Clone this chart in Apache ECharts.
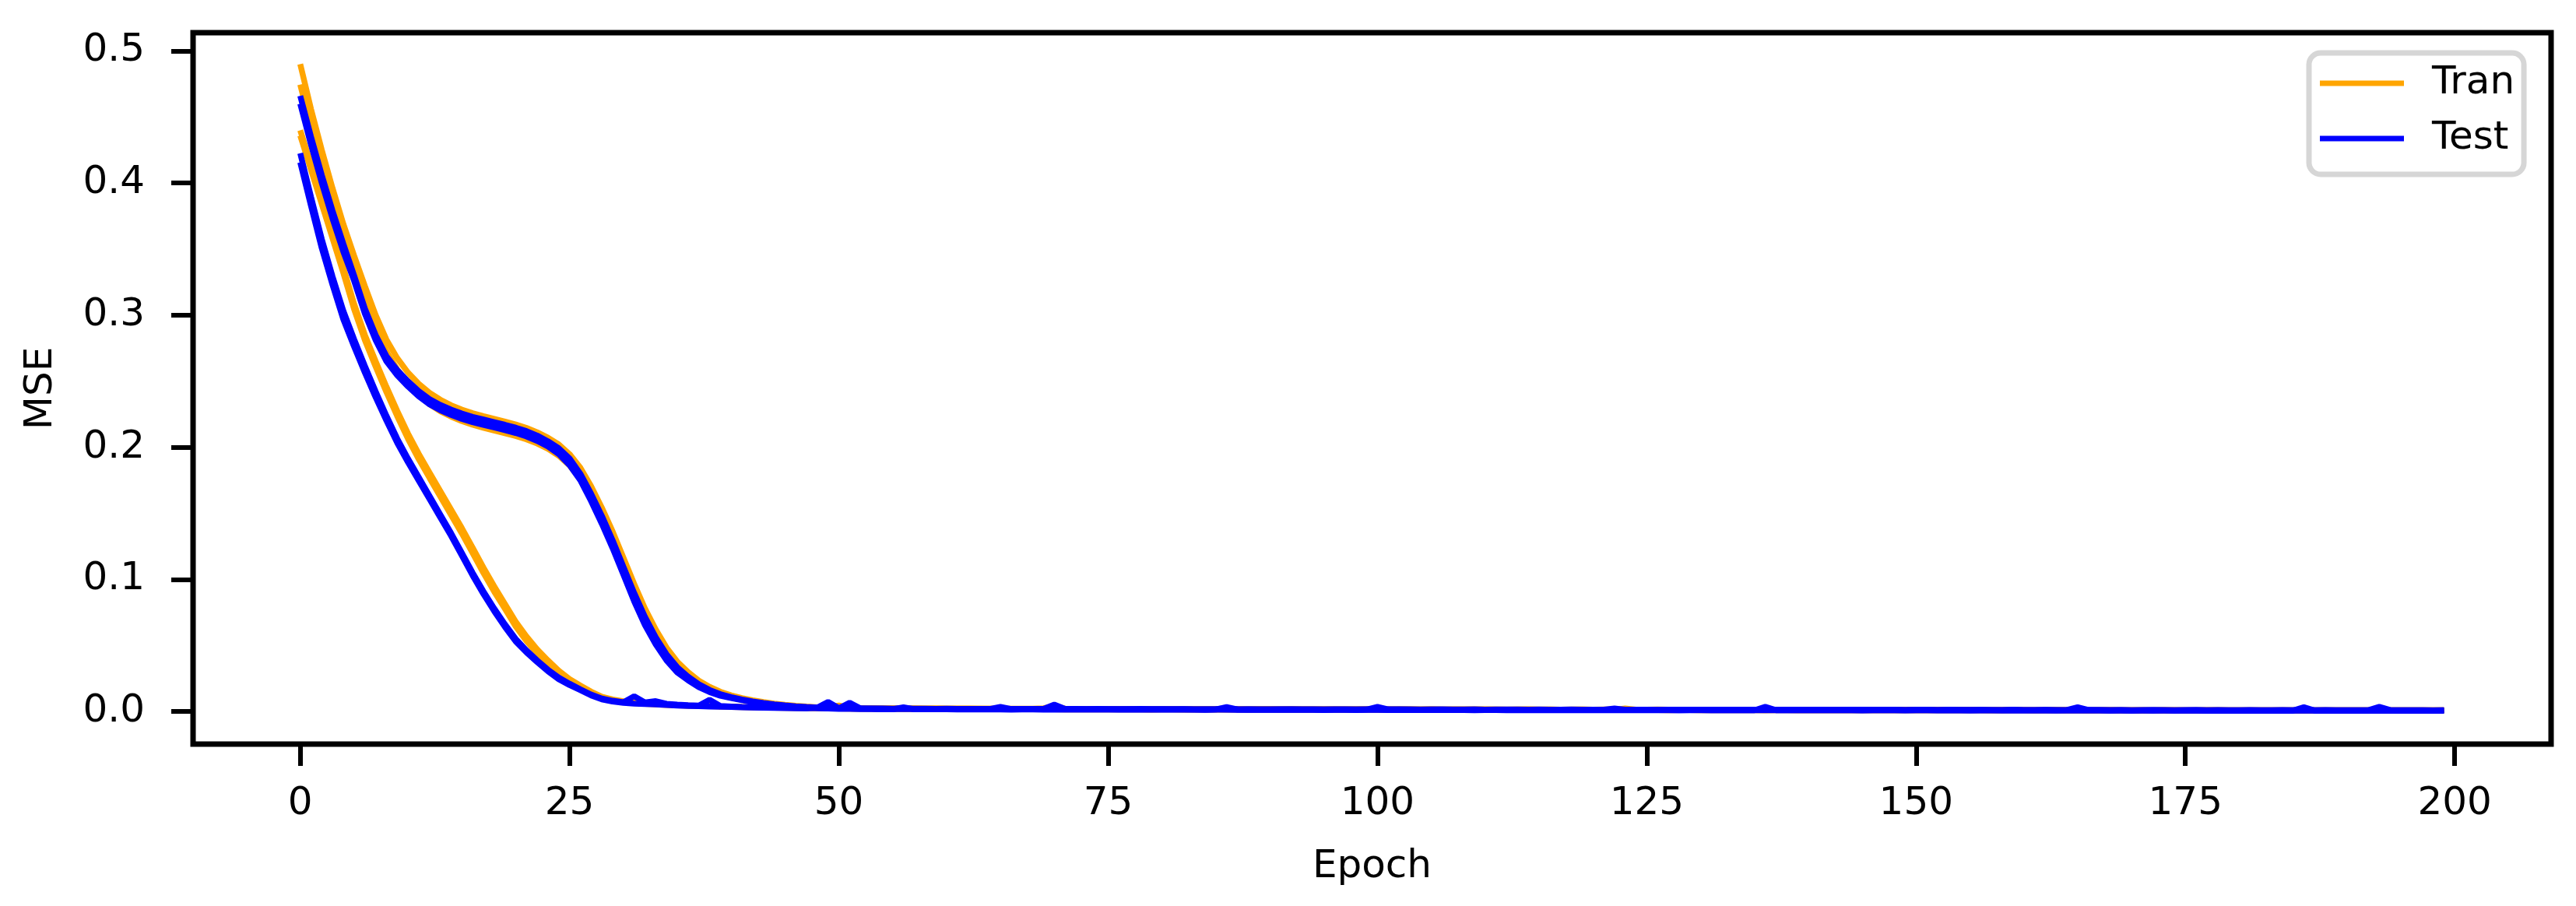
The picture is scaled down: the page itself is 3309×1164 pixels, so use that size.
<!DOCTYPE html>
<html>
<head>
<meta charset="utf-8">
<script src="https://cdn.jsdelivr.net/npm/echarts@6/dist/echarts.min.js"></script>
<style>
  html, body { margin: 0; padding: 0; background: #fff; }
  #chart { width: 3309px; height: 1164px; }
</style>
</head>
<body>
<div id="chart"></div>
<script>
// tick labels
const xTicks = [0, 25, 50, 75, 100, 125, 150, 175, 200];
const yTicks = [0, 0.1, 0.2, 0.3, 0.4, 0.5];

// MSE per epoch (0..199), four runs: A and B stall on a plateau, C and D drop straight away
const trainA = [
  0.490, 0.456, 0.425, 0.396, 0.369, 0.345, 0.322, 0.300, 0.2815, 0.2675,
  0.2565, 0.248, 0.2412, 0.236, 0.2318, 0.2285, 0.2258, 0.2236, 0.2215, 0.2194,
  0.2172, 0.2146, 0.2113, 0.2072, 0.2021, 0.1948, 0.1845, 0.1705, 0.1542, 0.1362,
  0.1165, 0.0965, 0.0780, 0.0621, 0.0484, 0.0377, 0.0298, 0.0234, 0.0186, 0.0149,
  0.0122, 0.0101, 0.0085, 0.0071, 0.0060, 0.0051, 0.0043, 0.0037, 0.0032, 0.0029,
  0.0040, 0.0026, 0.0025, 0.0024, 0.0024, 0.0023, 0.0023, 0.0022, 0.0022, 0.0022, 0.0021, 0.0021, 0.0021, 0.0020, 0.0021, 0.0020, 0.0020, 0.0020, 0.0019, 0.0020, 0.0019, 0.0019, 0.0019, 0.0018, 0.0019,
  0.0018, 0.0018, 0.0019, 0.0018, 0.0018, 0.0017, 0.0018, 0.0018, 0.0017, 0.0017, 0.0018, 0.0017, 0.0017, 0.0017, 0.0016, 0.0017, 0.0017, 0.0016, 0.0017, 0.0016, 0.0016, 0.0016, 0.0017, 0.0016, 0.0016,
  0.0016, 0.0015, 0.0016, 0.0016, 0.0015, 0.0016, 0.0015, 0.0015, 0.0015, 0.0016, 0.0015, 0.0015, 0.0014, 0.0015, 0.0015, 0.0014, 0.0015, 0.0014, 0.0014, 0.0015, 0.0014, 0.0014, 0.0014, 0.0022, 0.0014,
  0.0014, 0.0013, 0.0014, 0.0014, 0.0013, 0.0014, 0.0013, 0.0013, 0.0014, 0.0013, 0.0013, 0.0013, 0.0013, 0.0012, 0.0013, 0.0013, 0.0012, 0.0013, 0.0012, 0.0012, 0.0013, 0.0012, 0.0012, 0.0012, 0.0012,
  0.0012, 0.0011, 0.0012, 0.0012, 0.0011, 0.0012, 0.0011, 0.0011, 0.0012, 0.0011, 0.0011, 0.0011, 0.0011, 0.0012, 0.0011, 0.0011, 0.0010, 0.0011, 0.0011, 0.0011, 0.0010, 0.0011, 0.0010, 0.0010, 0.0011,
  0.0010, 0.0010, 0.0010, 0.0011, 0.0010, 0.0010, 0.0010, 0.0009, 0.0010, 0.0010, 0.0010, 0.0010, 0.0009, 0.0010, 0.0009, 0.0010, 0.0009, 0.0009, 0.0010, 0.0009, 0.0009, 0.0009, 0.0009, 0.0010, 0.0009
];
const trainB = [
  0.4745, 0.442, 0.411, 0.383, 0.357, 0.334, 0.311, 0.2905, 0.2725, 0.259,
  0.2485, 0.2395, 0.2325, 0.2273, 0.2232, 0.2198, 0.2170, 0.2147, 0.2126, 0.2106,
  0.2085, 0.2060, 0.2028, 0.1988, 0.1936, 0.1862, 0.1758, 0.1612, 0.1448, 0.1262,
  0.1062, 0.0862, 0.0680, 0.0530, 0.0406, 0.0312, 0.0248, 0.0194, 0.0155, 0.0125,
  0.0105, 0.0088, 0.0073, 0.0062, 0.0052, 0.0044, 0.0037, 0.0032, 0.0028, 0.0025,
  0.0022, 0.0021, 0.0020, 0.0020, 0.0019, 0.0019, 0.0018, 0.0019, 0.0018, 0.0018, 0.0017, 0.0018, 0.0017, 0.0017, 0.0017, 0.0016, 0.0017, 0.0016, 0.0016, 0.0016, 0.0016, 0.0015, 0.0016, 0.0015, 0.0015,
  0.0015, 0.0016, 0.0015, 0.0015, 0.0014, 0.0015, 0.0015, 0.0014, 0.0015, 0.0014, 0.0014, 0.0014, 0.0015, 0.0014, 0.0014, 0.0013, 0.0014, 0.0014, 0.0013, 0.0014, 0.0013, 0.0013, 0.0013, 0.0014, 0.0013,
  0.0013, 0.0013, 0.0012, 0.0013, 0.0013, 0.0012, 0.0013, 0.0012, 0.0012, 0.0012, 0.0013, 0.0012, 0.0012, 0.0011, 0.0012, 0.0012, 0.0012, 0.0011, 0.0012, 0.0011, 0.0011, 0.0012, 0.0011, 0.0011, 0.0011,
  0.0011, 0.0011, 0.0010, 0.0011, 0.0011, 0.0010, 0.0011, 0.0010, 0.0010, 0.0011, 0.0010, 0.0010, 0.0010, 0.0011, 0.0010, 0.0010, 0.0010, 0.0009, 0.0010, 0.0010, 0.0009, 0.0010, 0.0009, 0.0009, 0.0010,
  0.0009, 0.0009, 0.0009, 0.0010, 0.0009, 0.0009, 0.0009, 0.0008, 0.0009, 0.0009, 0.0009, 0.0008, 0.0009, 0.0009, 0.0008, 0.0009, 0.0008, 0.0008, 0.0009, 0.0008, 0.0008, 0.0008, 0.0008, 0.0009, 0.0008,
  0.0008, 0.0008, 0.0007, 0.0008, 0.0008, 0.0008, 0.0007, 0.0008, 0.0008, 0.0007, 0.0008, 0.0007, 0.0007, 0.0008, 0.0007, 0.0007, 0.0007, 0.0008, 0.0007, 0.0007, 0.0007, 0.0007, 0.0006, 0.0007, 0.0007
];
const trainC = [
  0.440, 0.414, 0.388, 0.362, 0.336, 0.3085, 0.285, 0.265, 0.2458, 0.2276,
  0.2104, 0.1950, 0.1808, 0.1668, 0.1528, 0.1388, 0.1240, 0.1090, 0.0948, 0.0814,
  0.0680, 0.0568, 0.0470, 0.0386, 0.0309, 0.0245, 0.0196, 0.0150, 0.0111, 0.0091,
  0.0077, 0.0068, 0.0062, 0.0057, 0.0052, 0.0048, 0.0045, 0.0042, 0.0040, 0.0038,
  0.0036, 0.0034, 0.0033, 0.0031, 0.0030, 0.0029, 0.0028, 0.0027, 0.0026, 0.0032,
  0.0045, 0.0026, 0.0025, 0.0025, 0.0024, 0.0024, 0.0023, 0.0024, 0.0023, 0.0023, 0.0022, 0.0023, 0.0022, 0.0022, 0.0021, 0.0022, 0.0021, 0.0021, 0.0021, 0.0024, 0.0040, 0.0021, 0.0020, 0.0020, 0.0020,
  0.0019, 0.0020, 0.0019, 0.0019, 0.0019, 0.0018, 0.0019, 0.0019, 0.0018, 0.0018, 0.0019, 0.0018, 0.0018, 0.0017, 0.0018, 0.0018, 0.0017, 0.0018, 0.0017, 0.0017, 0.0017, 0.0016, 0.0017, 0.0017, 0.0016,
  0.0017, 0.0016, 0.0016, 0.0016, 0.0017, 0.0016, 0.0015, 0.0016, 0.0016, 0.0015, 0.0016, 0.0015, 0.0015, 0.0015, 0.0016, 0.0015, 0.0015, 0.0014, 0.0015, 0.0015, 0.0014, 0.0015, 0.0015, 0.0014, 0.0014,
  0.0014, 0.0015, 0.0014, 0.0014, 0.0014, 0.0013, 0.0014, 0.0014, 0.0013, 0.0014, 0.0013, 0.0013, 0.0013, 0.0014, 0.0013, 0.0013, 0.0012, 0.0013, 0.0013, 0.0012, 0.0013, 0.0012, 0.0012, 0.0012, 0.0013,
  0.0012, 0.0012, 0.0011, 0.0012, 0.0012, 0.0011, 0.0012, 0.0011, 0.0011, 0.0012, 0.0011, 0.0011, 0.0011, 0.0011, 0.0012, 0.0011, 0.0010, 0.0011, 0.0011, 0.0010, 0.0011, 0.0010, 0.0010, 0.0011, 0.0010,
  0.0010, 0.0010, 0.0011, 0.0010, 0.0010, 0.0010, 0.0009, 0.0010, 0.0010, 0.0009, 0.0010, 0.0010, 0.0009, 0.0010, 0.0009, 0.0009, 0.0010, 0.0009, 0.0009, 0.0009, 0.0009, 0.0010, 0.0009, 0.0009, 0.0009
];
const trainD = [
  0.436, 0.410, 0.384, 0.358, 0.332, 0.3045, 0.281, 0.261, 0.2418, 0.2236,
  0.2064, 0.1910, 0.1768, 0.1628, 0.1488, 0.1348, 0.1200, 0.1050, 0.0908, 0.0778,
  0.0644, 0.0534, 0.0440, 0.0360, 0.0287, 0.0227, 0.0182, 0.0140, 0.0103, 0.0085,
  0.0071, 0.0064, 0.0058, 0.0054, 0.0049, 0.0046, 0.0043, 0.0041, 0.0060, 0.0037,
  0.0035, 0.0033, 0.0031, 0.0030, 0.0028, 0.0027, 0.0026, 0.0025, 0.0024, 0.0024,
  0.0023, 0.0023, 0.0022, 0.0022, 0.0021, 0.0022, 0.0021, 0.0021, 0.0020, 0.0021, 0.0020, 0.0020, 0.0020, 0.0019, 0.0020, 0.0019, 0.0019, 0.0019, 0.0018, 0.0019, 0.0018, 0.0018, 0.0018, 0.0018, 0.0017,
  0.0018, 0.0017, 0.0017, 0.0017, 0.0016, 0.0017, 0.0017, 0.0016, 0.0016, 0.0016, 0.0017, 0.0016, 0.0016, 0.0015, 0.0016, 0.0016, 0.0015, 0.0016, 0.0015, 0.0015, 0.0015, 0.0015, 0.0014, 0.0015, 0.0015,
  0.0014, 0.0015, 0.0014, 0.0014, 0.0014, 0.0014, 0.0013, 0.0014, 0.0014, 0.0013, 0.0014, 0.0013, 0.0013, 0.0013, 0.0013, 0.0012, 0.0013, 0.0013, 0.0012, 0.0013, 0.0012, 0.0012, 0.0012, 0.0012, 0.0011,
  0.0012, 0.0012, 0.0011, 0.0012, 0.0011, 0.0011, 0.0012, 0.0011, 0.0011, 0.0011, 0.0011, 0.0010, 0.0011, 0.0011, 0.0010, 0.0011, 0.0010, 0.0010, 0.0010, 0.0010, 0.0010, 0.0009, 0.0010, 0.0010, 0.0009,
  0.0010, 0.0009, 0.0009, 0.0009, 0.0010, 0.0009, 0.0009, 0.0009, 0.0008, 0.0009, 0.0009, 0.0008, 0.0009, 0.0008, 0.0008, 0.0009, 0.0008, 0.0008, 0.0008, 0.0008, 0.0008, 0.0007, 0.0008, 0.0008, 0.0008,
  0.0007, 0.0008, 0.0008, 0.0007, 0.0008, 0.0007, 0.0007, 0.0007, 0.0008, 0.0007, 0.0007, 0.0007, 0.0007, 0.0006, 0.0007, 0.0007, 0.0007, 0.0006, 0.0007, 0.0007, 0.0006, 0.0007, 0.0006, 0.0006, 0.0007
];

const testA = [
  0.466, 0.435, 0.406, 0.379, 0.354, 0.330, 0.305, 0.285, 0.269, 0.2585,
  0.250, 0.2425, 0.2365, 0.232, 0.2285, 0.2255, 0.223, 0.221, 0.219, 0.217,
  0.2148, 0.2122, 0.2088, 0.2045, 0.1992, 0.1915, 0.180, 0.1648, 0.148, 0.1295,
  0.1095, 0.0897, 0.0716, 0.0562, 0.0433, 0.0335, 0.0264, 0.0206, 0.0163, 0.0131,
  0.0109, 0.0091, 0.0076, 0.0064, 0.0054, 0.0046, 0.0039, 0.0034, 0.0030, 0.0027,
  0.0024, 0.0023, 0.0022, 0.0021, 0.0021, 0.0020, 0.0020, 0.0019, 0.0019, 0.0019, 0.0018, 0.0018, 0.0019, 0.0018, 0.0018, 0.0035, 0.0019, 0.0018, 0.0017, 0.0017, 0.0018, 0.0017, 0.0017, 0.0017, 0.0016,
  0.0016, 0.0017, 0.0016, 0.0016, 0.0016, 0.0017, 0.0016, 0.0016, 0.0015, 0.0016, 0.0016, 0.0015, 0.0015, 0.0016, 0.0015, 0.0015, 0.0015, 0.0016, 0.0015, 0.0015, 0.0014, 0.0015, 0.0015, 0.0014, 0.0015,
  0.0035, 0.0016, 0.0015, 0.0014, 0.0014, 0.0015, 0.0014, 0.0014, 0.0014, 0.0015, 0.0014, 0.0014, 0.0013, 0.0014, 0.0014, 0.0013, 0.0014, 0.0014, 0.0013, 0.0013, 0.0014, 0.0013, 0.0013, 0.0014, 0.0013,
  0.0013, 0.0013, 0.0014, 0.0013, 0.0013, 0.0012, 0.0013, 0.0013, 0.0013, 0.0012, 0.0013, 0.0013, 0.0012, 0.0013, 0.0012, 0.0012, 0.0013, 0.0012, 0.0012, 0.0012, 0.0013, 0.0012, 0.0012, 0.0012, 0.0011,
  0.0012, 0.0012, 0.0011, 0.0012, 0.0012, 0.0011, 0.0012, 0.0011, 0.0011, 0.0012, 0.0011, 0.0011, 0.0012, 0.0011, 0.0011, 0.0011, 0.0012, 0.0011, 0.0011, 0.0011, 0.0010, 0.0011, 0.0011, 0.0011, 0.0010,
  0.0011, 0.0011, 0.0010, 0.0011, 0.0010, 0.0010, 0.0011, 0.0010, 0.0010, 0.0011, 0.0010, 0.0010, 0.0010, 0.0011, 0.0010, 0.0010, 0.0010, 0.0010, 0.0035, 0.0011, 0.0010, 0.0010, 0.0010, 0.0009, 0.0010
];
const testB = [
  0.460, 0.429, 0.400, 0.373, 0.348, 0.326, 0.301, 0.281, 0.265, 0.2545,
  0.246, 0.2385, 0.2325, 0.228, 0.2245, 0.2215, 0.219, 0.217, 0.215, 0.213,
  0.2108, 0.2082, 0.2048, 0.2005, 0.1948, 0.1865, 0.175, 0.1592, 0.142, 0.1235,
  0.1035, 0.0833, 0.0654, 0.0508, 0.0387, 0.0295, 0.0236, 0.0184, 0.0147, 0.0119,
  0.0101, 0.0085, 0.0070, 0.0060, 0.0050, 0.0042, 0.0035, 0.0030, 0.0026, 0.0023,
  0.0020, 0.0019, 0.0018, 0.0018, 0.0017, 0.0017, 0.0032, 0.0017, 0.0016, 0.0016, 0.0016, 0.0015, 0.0016, 0.0015, 0.0015, 0.0015, 0.0014, 0.0015, 0.0015, 0.0014, 0.0014, 0.0015, 0.0014, 0.0014, 0.0014,
  0.0013, 0.0014, 0.0014, 0.0013, 0.0013, 0.0014, 0.0013, 0.0013, 0.0013, 0.0012, 0.0013, 0.0013, 0.0012, 0.0013, 0.0012, 0.0012, 0.0013, 0.0012, 0.0012, 0.0012, 0.0011, 0.0012, 0.0012, 0.0011, 0.0012,
  0.0012, 0.0011, 0.0012, 0.0011, 0.0011, 0.0011, 0.0012, 0.0011, 0.0011, 0.0010, 0.0011, 0.0011, 0.0010, 0.0011, 0.0010, 0.0010, 0.0011, 0.0010, 0.0010, 0.0010, 0.0011, 0.0010, 0.0010, 0.0009, 0.0010,
  0.0010, 0.0010, 0.0009, 0.0010, 0.0010, 0.0009, 0.0010, 0.0009, 0.0009, 0.0010, 0.0009, 0.0035, 0.0010, 0.0009, 0.0009, 0.0009, 0.0010, 0.0009, 0.0009, 0.0009, 0.0008, 0.0009, 0.0009, 0.0009, 0.0008,
  0.0009, 0.0009, 0.0008, 0.0009, 0.0008, 0.0008, 0.0009, 0.0008, 0.0008, 0.0009, 0.0008, 0.0008, 0.0008, 0.0009, 0.0008, 0.0008, 0.0008, 0.0008, 0.0007, 0.0008, 0.0008, 0.0008, 0.0007, 0.0008, 0.0008,
  0.0007, 0.0008, 0.0007, 0.0007, 0.0008, 0.0007, 0.0007, 0.0007, 0.0008, 0.0007, 0.0007, 0.0007, 0.0007, 0.0006, 0.0007, 0.0007, 0.0007, 0.0006, 0.0007, 0.0007, 0.0006, 0.0007, 0.0006, 0.0006, 0.0007
];
const testC = [
  0.4225, 0.3895, 0.3575, 0.3292, 0.3032, 0.2818, 0.2615, 0.2422, 0.2238, 0.2066,
  0.1914, 0.1773, 0.1632, 0.1491, 0.1350, 0.1200, 0.1050, 0.0910, 0.0780, 0.0660,
  0.0550, 0.0463, 0.0386, 0.0316, 0.0256, 0.0210, 0.0168, 0.0128, 0.0098, 0.0081,
  0.0070, 0.0115, 0.0068, 0.0078, 0.0058, 0.0052, 0.0047, 0.0044, 0.0088, 0.0042,
  0.0038, 0.0035, 0.0033, 0.0031, 0.0030, 0.0028, 0.0026, 0.0025, 0.0025, 0.0024,
  0.0023, 0.0066, 0.0023, 0.0022, 0.0022, 0.0021, 0.0022, 0.0021, 0.0021, 0.0020, 0.0021, 0.0020, 0.0020, 0.0020, 0.0019, 0.0020, 0.0019, 0.0019, 0.0019, 0.0020, 0.0052, 0.0020, 0.0019, 0.0018, 0.0019,
  0.0018, 0.0018, 0.0018, 0.0019, 0.0018, 0.0018, 0.0017, 0.0018, 0.0017, 0.0017, 0.0017, 0.0018, 0.0017, 0.0017, 0.0016, 0.0017, 0.0017, 0.0016, 0.0017, 0.0016, 0.0016, 0.0016, 0.0017, 0.0016, 0.0016,
  0.0016, 0.0015, 0.0016, 0.0016, 0.0015, 0.0015, 0.0016, 0.0015, 0.0015, 0.0015, 0.0014, 0.0015, 0.0015, 0.0015, 0.0014, 0.0015, 0.0014, 0.0014, 0.0015, 0.0014, 0.0014, 0.0014, 0.0022, 0.0014, 0.0014,
  0.0013, 0.0014, 0.0014, 0.0013, 0.0014, 0.0013, 0.0013, 0.0013, 0.0014, 0.0013, 0.0013, 0.0013, 0.0012, 0.0013, 0.0013, 0.0012, 0.0013, 0.0012, 0.0012, 0.0013, 0.0012, 0.0012, 0.0012, 0.0012, 0.0011,
  0.0012, 0.0012, 0.0011, 0.0012, 0.0011, 0.0012, 0.0011, 0.0011, 0.0011, 0.0012, 0.0011, 0.0011, 0.0011, 0.0010, 0.0011, 0.0032, 0.0011, 0.0011, 0.0010, 0.0011, 0.0010, 0.0010, 0.0011, 0.0010, 0.0010,
  0.0010, 0.0011, 0.0010, 0.0010, 0.0010, 0.0009, 0.0010, 0.0010, 0.0010, 0.0009, 0.0010, 0.0009, 0.0010, 0.0009, 0.0009, 0.0010, 0.0009, 0.0009, 0.0009, 0.0009, 0.0010, 0.0009, 0.0009, 0.0008, 0.0009
];
const testD = [
  0.4156, 0.3826, 0.3506, 0.3228, 0.2968, 0.2762, 0.2565, 0.2378, 0.2202, 0.2034,
  0.1886, 0.1747, 0.1608, 0.1469, 0.1330, 0.1180, 0.1030, 0.0890, 0.0760, 0.0640,
  0.0530, 0.0447, 0.0374, 0.0304, 0.0244, 0.0200, 0.0162, 0.0122, 0.0092, 0.0075,
  0.0065, 0.0060, 0.0057, 0.0053, 0.0049, 0.0045, 0.0042, 0.0040, 0.0038, 0.0036,
  0.0034, 0.0032, 0.0030, 0.0029, 0.0027, 0.0026, 0.0025, 0.0024, 0.0030, 0.0072,
  0.0026, 0.0022, 0.0021, 0.0021, 0.0020, 0.0020, 0.0020, 0.0019, 0.0019, 0.0019, 0.0018, 0.0019, 0.0018, 0.0018, 0.0018, 0.0017, 0.0018, 0.0017, 0.0017, 0.0017, 0.0016, 0.0017, 0.0016, 0.0016, 0.0016,
  0.0016, 0.0015, 0.0016, 0.0015, 0.0015, 0.0015, 0.0016, 0.0015, 0.0015, 0.0014, 0.0015, 0.0033, 0.0015, 0.0014, 0.0014, 0.0014, 0.0015, 0.0014, 0.0014, 0.0013, 0.0014, 0.0014, 0.0013, 0.0014, 0.0013,
  0.0013, 0.0014, 0.0013, 0.0013, 0.0013, 0.0012, 0.0013, 0.0013, 0.0012, 0.0013, 0.0012, 0.0012, 0.0012, 0.0013, 0.0012, 0.0012, 0.0011, 0.0012, 0.0012, 0.0011, 0.0012, 0.0011, 0.0011, 0.0012, 0.0011,
  0.0011, 0.0011, 0.0011, 0.0010, 0.0011, 0.0011, 0.0010, 0.0011, 0.0010, 0.0010, 0.0011, 0.0010, 0.0010, 0.0010, 0.0010, 0.0009, 0.0010, 0.0010, 0.0009, 0.0010, 0.0009, 0.0009, 0.0010, 0.0009, 0.0009,
  0.0009, 0.0009, 0.0010, 0.0009, 0.0009, 0.0008, 0.0009, 0.0009, 0.0008, 0.0009, 0.0008, 0.0008, 0.0009, 0.0008, 0.0008, 0.0008, 0.0008, 0.0009, 0.0008, 0.0008, 0.0007, 0.0008, 0.0008, 0.0008, 0.0007,
  0.0008, 0.0008, 0.0007, 0.0008, 0.0007, 0.0007, 0.0008, 0.0007, 0.0007, 0.0007, 0.0007, 0.0032, 0.0007, 0.0007, 0.0006, 0.0007, 0.0007, 0.0007, 0.0006, 0.0007, 0.0006, 0.0007, 0.0006, 0.0006, 0.0006
];

const trainRuns = [trainA, trainB, trainC, trainD];
const testRuns = [testA, testB, testC, testD];

const ORANGE = '#FFA500';
const BLUE = '#0000FF';
const FONT = 'DejaVu Sans';

function lineSeries(name, color, values) {
  return {
    name,
    type: 'line',
    data: values.map((v, i) => [i, v]),
    showSymbol: false,
    symbol: 'none',
    lineStyle: { color, width: 7.5 },
    itemStyle: { color },
    emphasis: { disabled: true },
    animation: false,
  };
}

const chart = echarts.init(document.getElementById('chart'), null, { renderer: 'canvas' });

chart.setOption({
  backgroundColor: '#fff',
  animation: false,
  textStyle: { fontFamily: FONT },
  grid: {
    left: 248,
    right: 32,
    top: 42,
    bottom: 208,
    show: true,
    borderColor: '#000',
    borderWidth: 7,
    containLabel: false,
    outerBoundsMode: 'none',
  },
  legend: {
    data: ['Tran', 'Test'],
    orient: 'vertical',
    left: 2966,
    top: 68,
    padding: [14, 12, 21, 14],
    itemGap: 21,
    itemWidth: 108,
    itemHeight: 7,
    icon: 'rect',
    backgroundColor: '#fff',
    borderColor: '#d6d6d6',
    borderWidth: 7,
    borderRadius: 15,
    textStyle: {
      fontFamily: FONT,
      fontSize: 50,
      lineHeight: 50,
      color: '#000',
      padding: [0, 0, 0, 31],
    },
  },
  xAxis: {
    type: 'value',
    min: -9.95,
    max: 208.95,
    name: 'Epoch',
    nameLocation: 'middle',
    nameGap: 133,
    nameTextStyle: { fontFamily: FONT, fontSize: 50, color: '#000' },
    axisLine: { show: false, onZero: false },
    splitLine: { show: false },
    axisTick: {
      show: true,
      customValues: xTicks,
      length: 28,
      lineStyle: { color: '#000', width: 6 },
    },
    axisLabel: {
      customValues: xTicks,
      margin: 52,
      fontFamily: FONT,
      fontSize: 50,
      color: '#000',
    },
  },
  yAxis: {
    type: 'value',
    min: -0.0247,
    max: 0.5138,
    name: 'MSE',
    nameLocation: 'middle',
    nameRotate: 90,
    nameGap: 170,
    nameTextStyle: { fontFamily: FONT, fontSize: 50, color: '#000' },
    axisLine: { show: false, onZero: false },
    splitLine: { show: false },
    axisTick: {
      show: true,
      customValues: yTicks,
      length: 28,
      lineStyle: { color: '#000', width: 6 },
    },
    axisLabel: {
      customValues: yTicks,
      margin: 62,
      fontFamily: FONT,
      fontSize: 50,
      color: '#000',
      formatter: (v) => v.toFixed(1),
    },
  },
  series: [
    ...trainRuns.map((run) => lineSeries('Tran', ORANGE, run)),
    ...testRuns.map((run) => lineSeries('Test', BLUE, run)),
  ],
});
</script>
</body>
</html>
